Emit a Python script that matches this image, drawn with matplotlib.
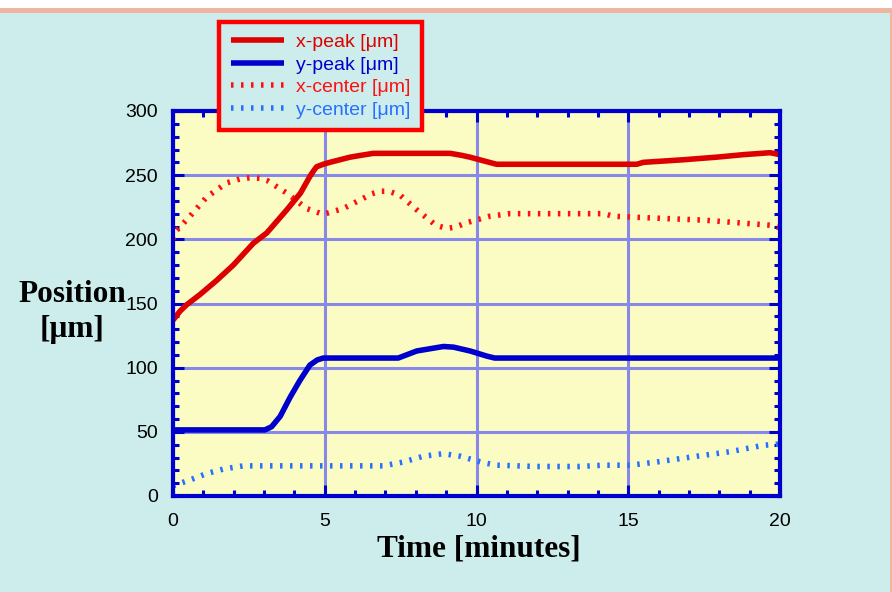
import matplotlib
matplotlib.use("Agg")
import matplotlib.pyplot as plt
from matplotlib.patches import Rectangle
from matplotlib.ticker import MultipleLocator

# ---- data ----
xpeak_t = [0, 0.23, 0.45, 0.89, 1.44, 1.99, 2.65, 3.09, 3.75, 4.2, 4.51, 4.62, 4.73, 4.95,
           5.17, 5.83, 6.2, 6.6, 9.13, 9.5, 9.79, 10.34, 10.66, 15.28, 15.5, 16.81, 17.9,
           18.8, 19.67, 20]
xpeak_v = [137, 144, 149, 157, 168, 180, 197, 205, 223, 236, 249, 253, 256.5, 258.5,
           260, 264, 265.5, 267, 267, 265.5, 264, 260.5, 258.5, 258.5, 260, 262, 264,
           266, 267.5, 266]

xcenter_t = [0, 0.12, 0.56, 1.11, 1.77, 2.2, 2.54, 2.9, 3.09, 3.75, 4.4, 4.95, 5.61, 6.27,
             6.55, 6.82, 7.1, 7.48, 8.03, 8.58, 8.8, 9.02, 9.3, 9.68, 10.44, 11.1, 14.2,
             14.5, 16.4, 17.47, 18.57, 19.67, 20]
xcenter_v = [200, 207, 218, 233, 244, 247, 248, 247.5, 246, 236, 224, 219.5, 224, 232,
             235.5, 237.5, 237.5, 234.5, 223, 212.5, 210, 208.5, 209.5, 213, 218, 220, 220,
             218, 216, 215, 213, 211, 209]

ypeak_t = [0, 3.03, 3.25, 3.53, 3.86, 4.18, 4.51, 4.75, 4.95, 7.42, 8.03, 8.91, 9.24, 9.79,
           10.34, 10.6, 20]
ypeak_v = [51.5, 51.5, 54, 62, 77, 90, 102, 106, 107.5, 107.5, 113, 116.5, 116, 113, 109,
           107.5, 107.5]

ycenter_t = [0, 0.56, 1.11, 1.66, 2.32, 6.93, 7.59, 8.25, 8.91, 9.46, 10.22, 10.66, 11.98,
             13.4, 14.18, 15.06, 15.94, 17.26, 18.35, 19.45, 20]
ycenter_v = [8, 12.5, 17.5, 21, 23.5, 23.5, 26.5, 31, 33, 31, 26, 24, 23, 23, 24, 24,
             26.5, 31, 34.5, 39.5, 40.5]

labels = ["x-peak [\u03bcm]", "y-peak [\u03bcm]", "x-center [\u03bcm]", "y-center [\u03bcm]"]
xticks = [0, 5, 10, 15, 20]
yticks = [0, 50, 100, 150, 200, 250, 300]

# ---- styling ----
W, H = 892, 592
fig_bg = "#cdeded"
ax_bg = "#fbfcc4"
spine_c = "#0000cc"
grid_c = "#8888e8"
c_xpeak = "#dd0000"
c_ypeak = "#0000cc"
c_xcenter = "#ff1010"
c_ycenter = "#2870ff"

plt.rcParams["font.family"] = ["Liberation Sans", "DejaVu Sans"]

fig = plt.figure(figsize=(W / 100, H / 100), dpi=100, facecolor=fig_bg)

# top white strip + salmon frame lines
fig.patches.append(Rectangle((0, 1 - 8 / H), 1, 8 / H, transform=fig.transFigure,
                             facecolor="white", edgecolor="none", zorder=0))
fig.patches.append(Rectangle((0, 1 - 13 / H), 1, 5 / H, transform=fig.transFigure,
                             facecolor="#efb5a0", edgecolor="none", zorder=0))
fig.patches.append(Rectangle((890 / W, 0), 2 / W, 1 - 8 / H, transform=fig.transFigure,
                             facecolor="#efb5a0", edgecolor="none", zorder=0))

ax = fig.add_axes([173 / W, 1 - 496 / H, 607 / W, 385 / H])
ax.set_facecolor(ax_bg)

lw = 4.0
ax.plot(xpeak_t, xpeak_v, color=c_xpeak, lw=lw, label=labels[0], solid_capstyle="butt")
ax.plot(ypeak_t, ypeak_v, color=c_ypeak, lw=lw, label=labels[1], solid_capstyle="butt")
ax.plot(xcenter_t, xcenter_v, color=c_xcenter, lw=lw, label=labels[2],
        dashes=(0.45, 1.35), dash_capstyle="butt")
ax.plot(ycenter_t, ycenter_v, color=c_ycenter, lw=lw, label=labels[3],
        dashes=(0.45, 1.35), dash_capstyle="butt")

ax.set_xlim(0, 20)
ax.set_ylim(0, 300)
ax.set_xticks(xticks)
ax.set_yticks(yticks)
ax.xaxis.set_minor_locator(MultipleLocator(1))
ax.yaxis.set_minor_locator(MultipleLocator(10))
ax.grid(True, which="major", color=grid_c, lw=2.2, zorder=0)
ax.set_axisbelow(True)

for s in ax.spines.values():
    s.set_color(spine_c)
    s.set_linewidth(3)

ax.tick_params(which="both", direction="in", top=True, right=True, color=spine_c,
               width=2.2, labelsize=14, labelcolor="black")
ax.tick_params(which="major", length=8)
ax.tick_params(which="minor", length=4.5)
ax.tick_params(axis="x", which="major", pad=12)
ax.tick_params(axis="y", which="major", pad=11)

fig.text(72 / W, 1 - 312 / H, "Position\n[\u03bcm]", ha="center", va="center",
         family=["Liberation Serif", "DejaVu Serif"], fontweight="bold", fontsize=22.5,
         linespacing=1.25)
fig.text(479 / W, 1 - 549 / H, "Time [minutes]", ha="center", va="center",
         family=["Liberation Serif", "DejaVu Serif"], fontweight="bold", fontsize=22.5)

leg = ax.legend(loc="upper left", bbox_to_anchor=(219 / W, 1 - 22 / H),
                bbox_transform=fig.transFigure, fontsize=14, frameon=True,
                fancybox=False, framealpha=1, facecolor=fig_bg, edgecolor="#ff0000",
                handlelength=2.75, handletextpad=0.6, labelspacing=0.25,
                borderpad=0.6, borderaxespad=0)
leg.get_frame().set_linewidth(3.2)
for txt, col in zip(leg.get_texts(), [c_xpeak, c_ypeak, c_xcenter, c_ycenter]):
    txt.set_color(col)

fig.savefig("out.png", dpi=100, facecolor=fig_bg)
